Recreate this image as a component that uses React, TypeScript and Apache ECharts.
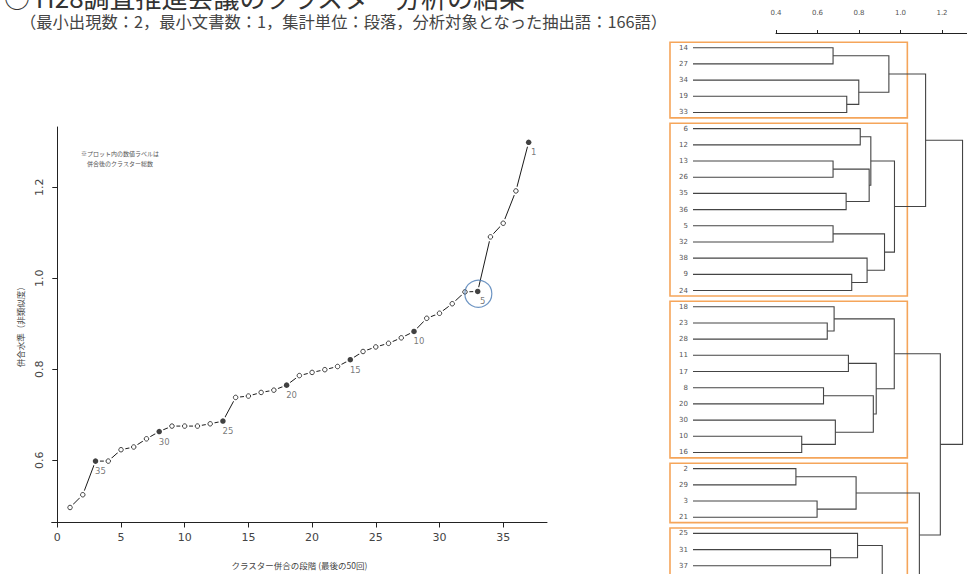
import React, { useEffect, useRef } from "react";
import * as echarts from "echarts";

const TITLE = "○ H28調査推進会議のクラスター分析の結果";
const SUBTITLE = "（最小出現数：2，最小文書数：1，集計単位：段落，分析対象となった抽出語：166語）";
const NOTE_LINES = ["※プロット内の数値ラベルは", "併合後のクラスター総数"];
const X_AXIS_NAME = "クラスター併合の段階 (最後の50回)";
const Y_AXIS_NAME = "併合水準（非類似度）";

const stages = [1, 2, 3, 4, 5, 6, 7, 8, 9, 10, 11, 12, 13, 14, 15, 16, 17, 18, 19, 20, 21, 22, 23, 24, 25, 26, 27, 28, 29, 30, 31, 32, 33, 34, 35, 36, 37];
const mergeHeights = [0.496, 0.524, 0.598, 0.598, 0.623, 0.629, 0.647, 0.663, 0.675, 0.675, 0.675, 0.68, 0.686, 0.738, 0.741, 0.749, 0.754, 0.765, 0.786, 0.793, 0.799, 0.806, 0.821, 0.839, 0.849, 0.857, 0.869, 0.883, 0.912, 0.923, 0.944, 0.97, 0.971, 1.091, 1.121, 1.192, 1.299];
const labeledStages = [3, 8, 13, 18, 23, 28, 33, 37];
const clusterCountLabels = ["35", "30", "25", "20", "15", "10", "5", "1"];
const highlightPoint = [33.05, 0.966];
const plotXTicks = [0, 5, 10, 15, 20, 25, 30, 35];
const plotYTicks = [0.6, 0.8, 1.0, 1.2];
const dendroXTicks = [0.4, 0.6, 0.8, 1.0, 1.2];

const leafOrder = [14, 27, 34, 19, 33, 6, 12, 13, 26, 35, 36, 5, 32, 38, 9, 24, 18, 23, 28, 11, 17, 8, 20, 30, 10, 16, 2, 29, 3, 21, 25, 31, 37, 1, 4, 7, 15, 22];
// stage k joins two nodes: a leaf label, or "sN" = node created at stage N
const mergePairs: [string, string][] = [
  ["2", "29"], ["10", "16"], ["3", "21"], ["15", "22"], ["7", "s4"],
  ["8", "20"], ["23", "28"], ["31", "37"], ["14", "27"], ["13", "26"],
  ["5", "32"], ["18", "s7"], ["30", "s2"], ["35", "36"], ["19", "33"],
  ["11", "17"], ["1", "4"], ["9", "24"], ["s1", "s3"], ["25", "s8"],
  ["34", "s15"], ["6", "12"], ["s17", "s5"], ["38", "s18"], ["s10", "s14"],
  ["s22", "s25"], ["s6", "s13"], ["s16", "s27"], ["s20", "s23"], ["s11", "s24"],
  ["s9", "s21"], ["s12", "s28"], ["s26", "s30"], ["s19", "s29"], ["s31", "s33"],
  ["s32", "s34"], ["s35", "s36"],
];
// cluster boxes: first and last leaf position (in leafOrder)
const clusterGroups = [[0, 4], [5, 15], [16, 25], [26, 29], [30, 37]];
const BOX_RIGHT = 1.033;

const NUM_FONT = "DejaVu Sans, Verdana, sans-serif";
const JP_FONT = "'Noto Sans CJK JP', 'Noto Sans', sans-serif";

export default function App() {
  const ref = useRef<HTMLDivElement>(null);
  useEffect(() => {
    const chart = echarts.init(ref.current!, undefined, { renderer: "svg" });

    const allPoints = stages.map((s, i) => [s, mergeHeights[i]]);
    const openPoints = stages.filter((s) => !labeledStages.includes(s)).map((s) => [s, mergeHeights[s - 1]]);
    const filledPoints = labeledStages.map((s, i) => ({ value: [s, mergeHeights[s - 1]], name: clusterCountLabels[i] }));

    const nodeInfo: { h: number; y: number }[] = [];
    const getNode = (id: string) =>
      id.startsWith("s") ? nodeInfo[Number(id.slice(1)) - 1] : { h: 0, y: leafOrder.indexOf(Number(id)) };
    const brackets: number[][] = [];
    mergePairs.forEach(([a, b], k) => {
      const na = getNode(a);
      const nb = getNode(b);
      const h = mergeHeights[k];
      nodeInfo[k] = { h, y: (na.y + nb.y) / 2 };
      brackets.push([na.h, na.y, h, nb.y, nb.h]);
    });
    const leafData = leafOrder.map((lab, i) => [0, i, lab]);

    const option: any = {
      animation: false,
      backgroundColor: "#ffffff",
      graphic: [
        { type: "text", x: 4, y: 9, style: { text: TITLE, fontSize: 26, fontFamily: JP_FONT, fill: "#333", verticalAlign: "bottom" } },
        { type: "text", x: 20, y: 21, style: { text: SUBTITLE, fontSize: 16.3, fontFamily: JP_FONT, fill: "#444", verticalAlign: "middle" } },
        { type: "text", x: 120, y: 153, style: { text: NOTE_LINES[0], fontSize: 6, fontFamily: JP_FONT, fill: "#555", align: "center", verticalAlign: "middle" } },
        { type: "text", x: 120, y: 163, style: { text: NOTE_LINES[1], fontSize: 6, fontFamily: JP_FONT, fill: "#555", align: "center", verticalAlign: "middle" } },
      ],
      grid: [
        { left: 51.7, top: 127, width: 495.3, height: 400 },
        { left: 693, top: 0, width: 274, height: 574 },
        { left: 776, top: 32, width: 191, height: 1 },
      ],
      xAxis: [
        {
          gridIndex: 0, type: "value", min: -0.44, max: 38.44,
          name: X_AXIS_NAME, nameLocation: "middle", nameGap: 38,
          nameTextStyle: { fontSize: 8.5, fontFamily: JP_FONT, color: "#444" },
          axisLine: { show: true, lineStyle: { color: "#222", width: 1 } },
          axisTick: { show: true, length: 5, lineStyle: { color: "#222" }, customValues: plotXTicks },
          axisLabel: { customValues: plotXTicks, margin: 10, fontSize: 11, fontFamily: NUM_FONT, color: "#444" },
          splitLine: { show: false },
        },
        { gridIndex: 1, type: "value", min: 0, max: 1.3205, show: false },
        {
          gridIndex: 2, type: "value", min: 0.4, max: 1.3205, position: "top",
          axisLine: { show: true, lineStyle: { color: "#222", width: 1 } },
          axisTick: { show: true, length: 3, lineStyle: { color: "#222" }, customValues: dendroXTicks },
          axisLabel: { customValues: dendroXTicks, margin: 16, fontSize: 7, fontFamily: NUM_FONT, color: "#555", formatter: (v: number) => v.toFixed(1) },
          splitLine: { show: false },
        },
      ],
      yAxis: [
        {
          gridIndex: 0, type: "value", min: 0.463, max: 1.3326,
          name: Y_AXIS_NAME, nameLocation: "middle", nameGap: 27, nameRotate: 90,
          nameTextStyle: { fontSize: 8.5, fontFamily: JP_FONT, color: "#444" },
          axisLine: { show: true, lineStyle: { color: "#222", width: 1 } },
          axisTick: { show: true, length: 5, lineStyle: { color: "#222" }, customValues: plotYTicks },
          axisLabel: { customValues: plotYTicks, rotate: 90, margin: 7, fontSize: 11, fontFamily: NUM_FONT, color: "#444", formatter: (v: number) => v.toFixed(1) },
          splitLine: { show: false },
        },
        { gridIndex: 1, type: "value", inverse: true, min: -2.946, max: 32.507, show: false },
        { gridIndex: 2, type: "value", show: false },
      ],
      series: [
        {
          type: "line", xAxisIndex: 0, yAxisIndex: 0, data: allPoints, z: 2,
          symbol: "circle", symbolSize: 9, showSymbol: true,
          itemStyle: { color: "#ffffff", borderWidth: 0 },
          lineStyle: { color: "#1a1a1a", width: 1 },
        },
        {
          type: "scatter", xAxisIndex: 0, yAxisIndex: 0, data: openPoints, z: 3,
          symbol: "circle", symbolSize: 4.5,
          itemStyle: { color: "#ffffff", borderColor: "#111", borderWidth: 1 },
        },
        {
          type: "scatter", xAxisIndex: 0, yAxisIndex: 0, data: filledPoints, z: 3,
          symbol: "circle", symbolSize: 5.5,
          itemStyle: { color: "#111" },
          label: { show: true, position: "inside", offset: [5, 10], formatter: "{b}", fontSize: 8.5, fontFamily: NUM_FONT, color: "#555", textBorderWidth: 0 },
        },
        {
          type: "scatter", xAxisIndex: 0, yAxisIndex: 0, data: [highlightPoint], z: 4,
          symbol: "circle", symbolSize: 27,
          itemStyle: { color: "rgba(0,0,0,0)", borderColor: "#4a7ab4", borderWidth: 1.2 },
        },
        {
          type: "custom", coordinateSystem: "cartesian2d", xAxisIndex: 1, yAxisIndex: 1, z: 2,
          data: clusterGroups, clip: false,
          renderItem: (params: any, api: any) => {
            const top = api.coord([0, api.value(0) - 0.335]);
            const bottom = api.coord([0, api.value(1) + 0.335]);
            const right = api.coord([BOX_RIGHT, 0]);
            const left = top[0] - 23;
            return {
              type: "rect",
              shape: { x: left, y: top[1], width: right[0] - left, height: bottom[1] - top[1] },
              style: { fill: "none", stroke: "#f5a55a", lineWidth: 1.6 },
            };
          },
        },
        {
          type: "custom", coordinateSystem: "cartesian2d", xAxisIndex: 1, yAxisIndex: 1, z: 3,
          data: brackets, clip: true,
          renderItem: (params: any, api: any) => {
            const a = api.coord([api.value(0), api.value(1)]);
            const b = api.coord([api.value(2), api.value(1)]);
            const c = api.coord([api.value(2), api.value(3)]);
            const d = api.coord([api.value(4), api.value(3)]);
            return {
              type: "polyline",
              shape: { points: [a, b, c, d] },
              style: { fill: "none", stroke: "#444", lineWidth: 1.1 },
            };
          },
        },
        {
          type: "custom", coordinateSystem: "cartesian2d", xAxisIndex: 1, yAxisIndex: 1, z: 3,
          data: leafData.filter((d) => (d[1] as number) < 33), clip: false,
          renderItem: (params: any, api: any) => {
            const p = api.coord([api.value(0), api.value(1)]);
            return {
              type: "text", x: p[0] - 5, y: p[1],
              style: { text: String(leafData[params.dataIndex][2]), fill: "#555", fontSize: 7, fontFamily: NUM_FONT, align: "right", verticalAlign: "middle" },
            };
          },
        },
      ],
    };
    chart.setOption(option);
    return () => chart.dispose();
  }, []);
  return <div ref={ref} style={{ position: "absolute", left: 0, top: 0, width: 967, height: 574, background: "#fff" }} />;
}
